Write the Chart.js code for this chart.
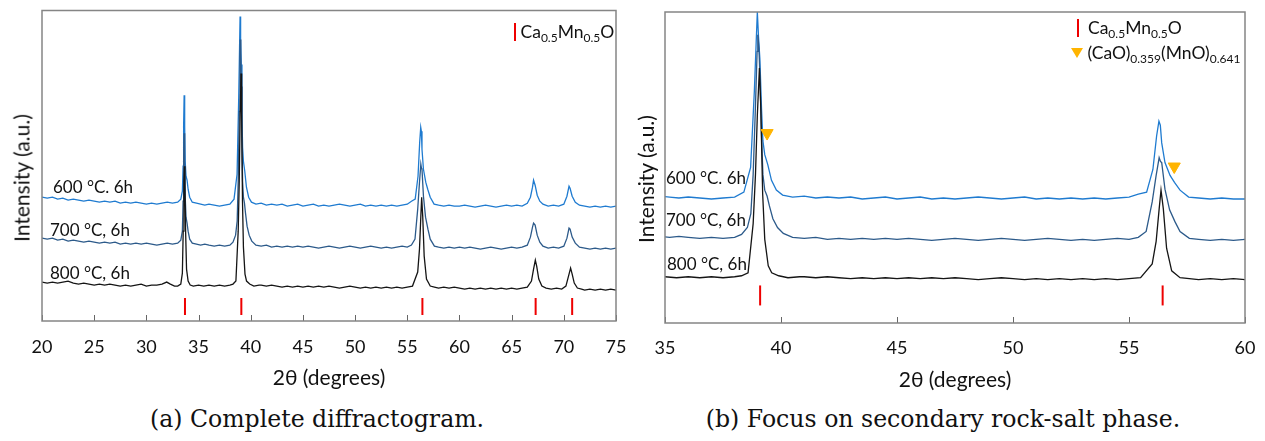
<!DOCTYPE html>
<html>
<head>
<meta charset="utf-8">
<script src="https://cdn.jsdelivr.net/npm/chart.js@4.4.1/dist/chart.umd.min.js"></script>
<style>
  body { margin: 0; background: #fff; width: 1265px; height: 441px; position: relative; overflow: hidden; font-family: Lato, sans-serif; color: #111; }
  canvas { position: absolute; top: 0; }
  .lbl { position: absolute; transform: translateY(-50%); line-height: 1; white-space: nowrap; font-size: 17px; }
  .ytitle { position: absolute; transform: translate(-50%, -50%) rotate(-90deg); white-space: nowrap; font-size: 21px; line-height: 1; }
  .legend { position: absolute; white-space: nowrap; font-size: 17.5px; line-height: 1; }
  .legend sub { font-size: 12px; vertical-align: -4px; }
  .bar { display: inline-block; width: 2px; height: 18px; background: #ee0000; vertical-align: -3px; }
  .tri { display: inline-block; width: 0; height: 0; border-left: 6px solid transparent; border-right: 6px solid transparent; border-top: 10px solid #ffb400; vertical-align: 1px; }
  .caption { position: absolute; top: 405px; font-family: "DejaVu Serif", serif; font-size: 23.6px; white-space: nowrap; transform: translateX(-50%); }
</style>
</head>
<body>
<canvas id="chartA" width="630" height="395" style="left:0"></canvas>
<canvas id="chartB" width="635" height="395" style="left:630px"></canvas>

<div class="ytitle" style="left:21px; top:178px">Intensity (a.u.)</div>
<div class="ytitle" style="left:645px; top:179px">Intensity (a.u.)</div>

<div class="lbl" id="a600" style="left:53px; top:186px"></div>
<div class="lbl" id="a700" style="left:50px; top:229px"></div>
<div class="lbl" id="a800" style="left:50px; top:272px"></div>
<div class="lbl" id="b600" style="left:666px; top:177px"></div>
<div class="lbl" id="b700" style="left:666px; top:219px"></div>
<div class="lbl" id="b800" style="left:667px; top:263px"></div>

<div class="legend" style="left:514px; top:23px"><span class="bar"></span> Ca<sub>0.5</sub>Mn<sub>0.5</sub>O</div>
<div class="legend" style="left:1077px; top:19px"><span class="bar"></span>&nbsp;&nbsp;Ca<sub>0.5</sub>Mn<sub>0.5</sub>O</div>
<div class="legend" style="left:1071px; top:44px"><span class="tri"></span> (CaO)<sub>0.359</sub>(MnO)<sub>0.641</sub></div>

<div class="caption" style="left:317px">(a) Complete diffractogram.</div>
<div class="caption" style="left:943px">(b) Focus on secondary rock-salt phase.</div>

<script>
// scan data [2θ, intensity a.u.]
const scan600 = [
    [20, 124], [20.5, 123], [21, 124], [21.5, 122], [22, 123], [22.5, 121], [23, 122], [23.5, 121], [24, 120], [24.5, 121],
    [25, 120], [25.5, 119], [26, 120], [26.5, 119], [27, 120], [27.5, 118], [28, 119], [28.5, 118], [29, 119], [29.5, 118],
    [30, 117], [30.5, 118], [31, 117], [31.5, 118], [32, 119], [32.5, 118], [33, 119], [33.3, 122], [33.45, 130], [33.52, 155],
    [33.57, 195], [33.62, 226], [33.67, 195], [33.72, 160], [33.8, 145], [33.9, 141], [34.0, 132], [34.15, 124], [34.4, 119], [34.8, 118],
    [35.2, 117], [35.6, 116], [36, 117], [36.5, 116], [37, 115], [37.5, 116], [38, 117], [38.4, 122], [38.69, 147], [38.85, 224],
    [38.93, 274], [38.98, 305], [39.03, 280], [39.09, 257], [39.16, 207], [39.22, 174], [39.3, 160], [39.43, 150], [39.59, 134], [39.8, 124],
    [40.07, 119], [40.5, 117], [41, 118], [41.5, 116], [42, 117], [42.5, 116], [43, 117], [43.5, 115], [44, 116], [44.5, 117],
    [45, 115], [45.5, 116], [46, 117], [46.5, 115], [47, 116], [47.5, 115], [48, 116], [48.5, 117], [49, 116], [49.5, 115],
    [50, 116], [50.5, 117], [51, 115], [51.5, 116], [52, 115], [52.5, 116], [53, 115], [53.5, 116], [54, 115], [54.5, 116],
    [55, 117], [55.4, 120], [55.76, 122], [56.03, 145], [56.19, 179], [56.29, 194], [56.35, 190], [56.41, 172], [56.55, 152], [56.77, 139],
    [56.96, 132], [57.2, 124], [57.57, 117], [58, 116], [58.5, 115], [59, 116], [59.5, 115], [60, 115], [60.5, 116], [61, 115],
    [61.5, 114], [62, 115], [62.5, 116], [63, 115], [63.5, 114], [64, 115], [64.5, 116], [65, 115], [65.5, 116], [66, 115],
    [66.5, 118], [66.8, 124], [67.0, 134], [67.1, 141], [67.25, 136], [67.45, 126], [67.7, 120], [68, 117], [68.5, 115], [69, 116],
    [69.5, 115], [70, 117], [70.3, 125], [70.5, 135], [70.6, 133], [70.8, 125], [71.1, 119], [71.5, 116], [72, 115], [72.5, 114],
    [73, 115], [73.5, 114], [74, 115], [74.5, 114], [75, 115]
];
const scan700 = [
    [20, 83], [20.5, 82], [21, 83], [21.5, 81], [22, 82], [22.5, 80], [23, 81], [23.5, 80], [24, 79], [24.5, 80],
    [25, 79], [25.5, 78], [26, 79], [26.5, 78], [27, 79], [27.5, 77], [28, 78], [28.5, 77], [29, 78], [29.5, 77],
    [30, 78], [30.5, 77], [31, 76], [31.5, 77], [32, 78], [32.5, 77], [33, 78], [33.3, 81], [33.45, 90], [33.52, 120],
    [33.57, 160], [33.62, 188], [33.67, 160], [33.72, 125], [33.8, 104], [33.9, 98], [34.0, 90], [34.15, 82], [34.4, 78], [34.8, 77],
    [35.2, 76], [35.6, 77], [36, 76], [36.5, 75], [37, 76], [37.5, 75], [38, 76], [38.3, 79], [38.55, 86], [38.7, 100],
    [38.8, 140], [38.9, 210], [38.97, 265], [39.0, 282], [39.05, 268], [39.1, 235], [39.16, 180], [39.22, 140], [39.3, 124], [39.4, 118],
    [39.5, 108], [39.65, 95], [39.85, 86], [40.1, 80], [40.5, 76], [41, 75], [41.5, 76], [42, 74], [42.5, 75], [43, 74],
    [43.5, 75], [44, 74], [44.5, 75], [45, 74], [45.5, 75], [46, 74], [46.5, 73], [47, 74], [47.5, 75], [48, 74],
    [48.5, 73], [49, 74], [49.5, 75], [50, 74], [50.5, 73], [51, 74], [51.5, 75], [52, 74], [52.5, 73], [53, 74],
    [53.5, 73], [54, 74], [54.5, 75], [55, 74], [55.4, 76], [55.74, 82], [56.0, 112], [56.17, 139], [56.3, 157], [56.36, 153],
    [56.41, 152], [56.55, 125], [56.75, 104], [56.98, 92], [57.2, 82], [57.6, 75], [58, 74], [58.5, 73], [59, 74], [59.5, 73],
    [60, 74], [60.5, 73], [61, 74], [61.5, 73], [62, 72], [62.5, 73], [63, 74], [63.5, 73], [64, 72], [64.5, 73],
    [65, 74], [65.5, 73], [66, 74], [66.5, 76], [66.8, 84], [67.0, 94], [67.1, 98], [67.25, 96], [67.45, 86], [67.7, 79],
    [68, 75], [68.5, 73], [69, 74], [69.5, 73], [70, 75], [70.3, 83], [70.5, 93], [70.6, 92], [70.8, 84], [71.1, 78],
    [71.5, 74], [72, 73], [72.5, 72], [73, 73], [73.5, 72], [74, 73], [74.5, 72], [75, 73]
];
const scan800 = [
    [20, 39], [20.5, 38], [21, 39], [21.5, 38], [22, 39], [22.5, 40], [23, 38], [23.5, 37], [24, 38], [24.5, 37],
    [25, 36], [25.5, 37], [26, 36], [26.5, 37], [27, 36], [27.5, 35], [28, 36], [28.5, 35], [29, 36], [29.5, 37],
    [30, 35], [30.5, 36], [31, 36], [31.5, 37], [31.95, 39], [32.3, 37], [32.7, 35], [33.0, 35], [33.3, 37], [33.45, 48],
    [33.53, 90], [33.6, 140], [33.65, 155], [33.7, 135], [33.76, 90], [33.85, 52], [34.0, 40], [34.2, 36], [34.5, 35], [35, 36],
    [35.5, 35], [36, 36], [36.5, 35], [37, 36], [37.5, 35], [38, 36], [38.3, 37], [38.58, 40], [38.8, 90], [38.9, 140],
    [38.98, 200], [39.07, 248], [39.13, 207], [39.21, 120], [39.3, 74], [39.45, 47], [39.6, 40], [39.9, 37], [40.3, 35], [40.8, 36],
    [41, 36], [41.5, 35], [42, 36], [42.5, 35], [43, 34], [43.5, 35], [44, 34], [44.5, 35], [45, 34], [45.5, 35],
    [46, 34], [46.5, 35], [47, 34], [47.5, 35], [48, 34], [48.5, 33], [49, 34], [49.5, 35], [50, 34], [50.5, 33],
    [51, 34], [51.5, 33], [52, 34], [52.5, 33], [53, 34], [53.5, 33], [54, 34], [54.5, 33], [55, 34], [55.5, 35],
    [56.0, 49], [56.17, 72], [56.3, 105], [56.38, 124], [56.48, 105], [56.62, 65], [56.84, 42], [57.2, 35], [57.6, 34], [58, 33],
    [58.5, 34], [59, 33], [59.5, 34], [60, 33], [60.5, 32], [61, 33], [61.5, 32], [62, 33], [62.5, 32], [63, 33],
    [63.5, 32], [64, 33], [64.5, 32], [65, 33], [65.5, 32], [66, 33], [66.5, 34], [66.9, 40], [67.1, 52], [67.27, 61],
    [67.4, 55], [67.6, 42], [67.9, 35], [68.3, 33], [68.8, 32], [69.3, 33], [69.8, 32], [70.2, 35], [70.45, 45], [70.65, 53],
    [70.8, 47], [71.0, 38], [71.3, 33], [71.7, 32], [72, 31], [72.5, 32], [73, 31], [73.5, 32], [74, 31], [74.5, 32], [75, 31]
];

// reference peaks
const mainPhasePeaks = [33.7, 39.1, 56.45, 67.3, 70.8];
const secondPhasePeaks = [39.4, 56.95];
const secondPhaseLevels = [182, 148];

const seriesNames = ['600 °C. 6h', '700 °C, 6h', '800 °C, 6h'];
const seriesColors = ['#1f7bd0', '#2c5a8a', '#151515'];
const ticksA = [20, 25, 30, 35, 40, 45, 50, 55, 60, 65, 70, 75];
const ticksB = [35, 40, 45, 50, 55, 60];

['a', 'b'].forEach(p => {
    document.getElementById(p + '600').textContent = seriesNames[0];
    document.getElementById(p + '700').textContent = seriesNames[1];
    document.getElementById(p + '800').textContent = seriesNames[2];
});

// frame + inward ticks
const framePlugin = {
    id: 'frame',
    afterDraw(chart) {
        const { ctx, chartArea: a } = chart;
        const x = chart.scales.x;
        ctx.save();
        ctx.strokeStyle = '#666';
        ctx.lineWidth = 1;
        x.ticks.forEach(t => {
            const px = Math.round(x.getPixelForValue(t.value)) + 0.5;
            ctx.beginPath();
            ctx.moveTo(px, a.bottom);
            ctx.lineTo(px, a.bottom - 6);
            ctx.stroke();
        });
        ctx.strokeStyle = '#858585';
        ctx.lineWidth = 1.5;
        ctx.strokeRect(a.left, a.top, a.right - a.left, a.bottom - a.top);
        ctx.restore();
    }
};

function buildChart(id, cfg) {
    const lineSet = (data, i) => ({
        data: data,
        borderColor: seriesColors[i],
        borderWidth: 1.3,
        pointRadius: 0,
        tension: 0,
        order: 3 - i + 2
    });
    const datasets = [
        {
            data: mainPhasePeaks.map(v => [v, cfg.markLevel]),
            showLine: false,
            pointStyle: 'line',
            rotation: 90,
            pointRadius: cfg.markRadius,
            pointBorderColor: '#ee0000',
            pointBorderWidth: 2,
            order: 0
        }
    ];
    if (cfg.showSecond) {
        datasets.push({
            data: secondPhasePeaks.map((v, i) => [v, secondPhaseLevels[i]]),
            showLine: false,
            pointStyle: 'triangle',
            rotation: 180,
            pointRadius: 7,
            pointBackgroundColor: '#ffb400',
            pointBorderColor: '#ffb400',
            pointBorderWidth: 1,
            order: 0
        });
    }
    datasets.push(lineSet(scan800, 2), lineSet(scan700, 1), lineSet(scan600, 0));

    return new Chart(document.getElementById(id), {
        type: 'line',
        data: { datasets },
        options: {
            responsive: false,
            animation: false,
            events: [],
            layout: { padding: cfg.padding },
            plugins: { legend: { display: false }, tooltip: { enabled: false } },
            scales: {
                x: {
                    type: 'linear',
                    min: cfg.xmin,
                    max: cfg.xmax,
                    afterBuildTicks: s => { s.ticks = cfg.ticks.map(v => ({ value: v })); },
                    afterFit: s => {
                        s.height = cfg.xHeight;
                        s.paddingLeft = 0;
                        s.paddingRight = 0;
                    },
                    grid: { display: false, drawTicks: false },
                    border: { display: false },
                    ticks: {
                        font: { family: 'Lato', size: 18 },
                        color: '#111',
                        padding: cfg.tickPad,
                        maxRotation: 0
                    },
                    title: {
                        display: true,
                        text: '2θ (degrees)',
                        font: { family: 'Lato', size: 21 },
                        color: '#111',
                        padding: { top: 0, bottom: cfg.titlePad }
                    }
                },
                y: {
                    display: false,
                    min: cfg.ymin,
                    max: cfg.ymax
                }
            }
        },
        plugins: [framePlugin]
    });
}

buildChart('chartA', {
    xmin: 20, xmax: 75, ticks: ticksA,
    ymin: 0, ymax: 311,
    padding: { left: 42, top: 10, right: 14, bottom: 0 },
    xHeight: 74, tickPad: 15, titlePad: 4,
    markLevel: 14.5, markRadius: 8.5,
    showSecond: false
});

buildChart('chartB', {
    xmin: 35, xmax: 60, ticks: ticksB,
    ymin: -11, ymax: 305,
    padding: { left: 35, top: 7, right: 20, bottom: 0 },
    xHeight: 72, tickPad: 14, titlePad: 2,
    markLevel: 17, markRadius: 10,
    showSecond: true
});
</script>
</body>
</html>
